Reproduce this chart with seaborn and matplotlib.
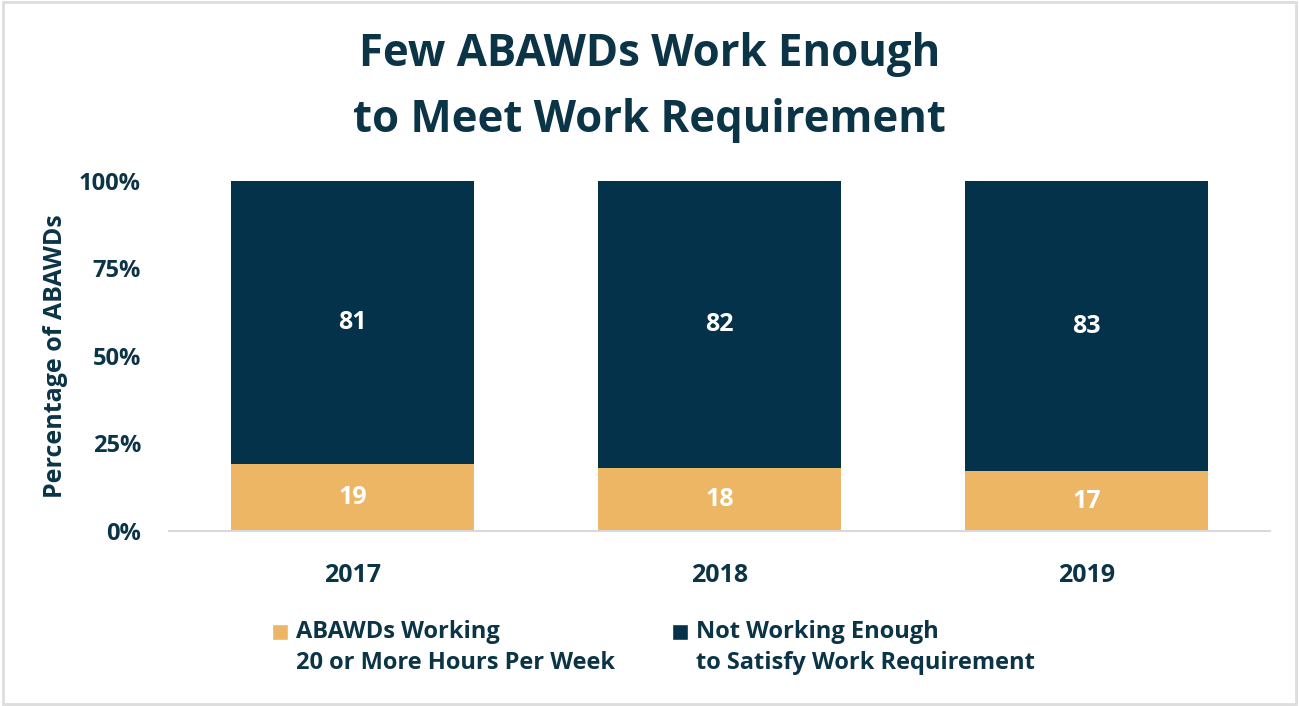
import matplotlib
matplotlib.use("Agg")
import matplotlib.pyplot as plt
from matplotlib.patches import Patch, Rectangle
from matplotlib.legend_handler import HandlerPatch
import seaborn as sns
import pandas as pd

years = ["2017", "2018", "2019"]
working = [19, 18, 17]
not_working = [81, 82, 83]
series_names = ["ABAWDs Working\n20 or More Hours Per Week",
                "Not Working Enough\nto Satisfy Work Requirement"]
y_ticks = [0, 25, 50, 75, 100]

GOLD = "#EDB664"
NAVY = "#03324A"
TEXT = "#0B3447"

sns.set_theme(style="white")
plt.rcParams["font.family"] = ["Open Sans", "DejaVu Sans"]
plt.rcParams["font.weight"] = "bold"

df = pd.DataFrame({"year": years, "working": working, "not_working": not_working})

fig = plt.figure(figsize=(12.99, 7.06), dpi=100)
ax = fig.add_axes([0.130, 0.248, 0.8477, 0.4956])

# stacked bars: working at the bottom, the rest on top
sns.barplot(data=df, x="year", y="working", color=GOLD, width=0.664,
            saturation=1, linewidth=0, ax=ax)
sns.barplot(data=df, x="year", y="not_working", color=NAVY, width=0.664,
            saturation=1, linewidth=0, bottom=df["working"], ax=ax)

for i, (w, n) in enumerate(zip(working, not_working)):
    ax.text(i, w / 2, str(w), ha="center", va="center", color="white",
            fontsize=18, fontweight="bold")
    ax.text(i, w + n / 2, str(n), ha="center", va="center", color="white",
            fontsize=18, fontweight="bold")

ax.set_xlim(-0.5, 2.5)
ax.set_ylim(0, 100)
ax.set_yticks(y_ticks)
ax.set_yticklabels([f"{t}%" for t in y_ticks], fontsize=17, color=TEXT,
                   fontweight="bold")
ax.set_xticks(range(len(years)))
ax.set_xticklabels(years, fontsize=18, color=TEXT, fontweight="bold")
ax.tick_params(axis="x", length=0, pad=23)
ax.tick_params(axis="y", length=0, pad=20)
ax.set_xlabel("")
ax.set_ylabel("Percentage of ABAWDs", fontsize=18, color=TEXT,
              fontweight="bold", labelpad=8)
for side in ["top", "right", "left"]:
    ax.spines[side].set_visible(False)
ax.spines["bottom"].set_color("#D9D9D9")
ax.spines["bottom"].set_linewidth(1.5)

fig.text(0.5, 0.876, "Few ABAWDs Work Enough\nto Meet Work Requirement",
         ha="center", va="center", fontsize=31.5, fontweight="bold",
         color=TEXT, linespacing=1.6)


def top_square(legend, orig_handle, xdescent, ydescent, width, height, fontsize):
    # square lined up with the first line of a two-line label
    return Rectangle((-xdescent, -ydescent + 11.5), width, height)


handles = [Patch(facecolor=GOLD), Patch(facecolor=NAVY)]
fig.legend(handles, series_names, loc="center", bbox_to_anchor=(0.503, 0.083),
           ncol=2, frameon=False, handlelength=0.68, handleheight=0.68,
           handletextpad=0.35, columnspacing=2.4,
           handler_map={Patch: HandlerPatch(patch_func=top_square)},
           prop={"weight": "bold", "size": 17}, labelcolor=TEXT)
for t in fig.legends[0].get_texts():
    t.set_linespacing(1.43)

fig.patches.append(Rectangle((0.002, 0.003), 0.996, 0.994, transform=fig.transFigure,
                             fill=False, edgecolor="#DDDDDD", linewidth=2))

fig.savefig("out.png", dpi=100)
